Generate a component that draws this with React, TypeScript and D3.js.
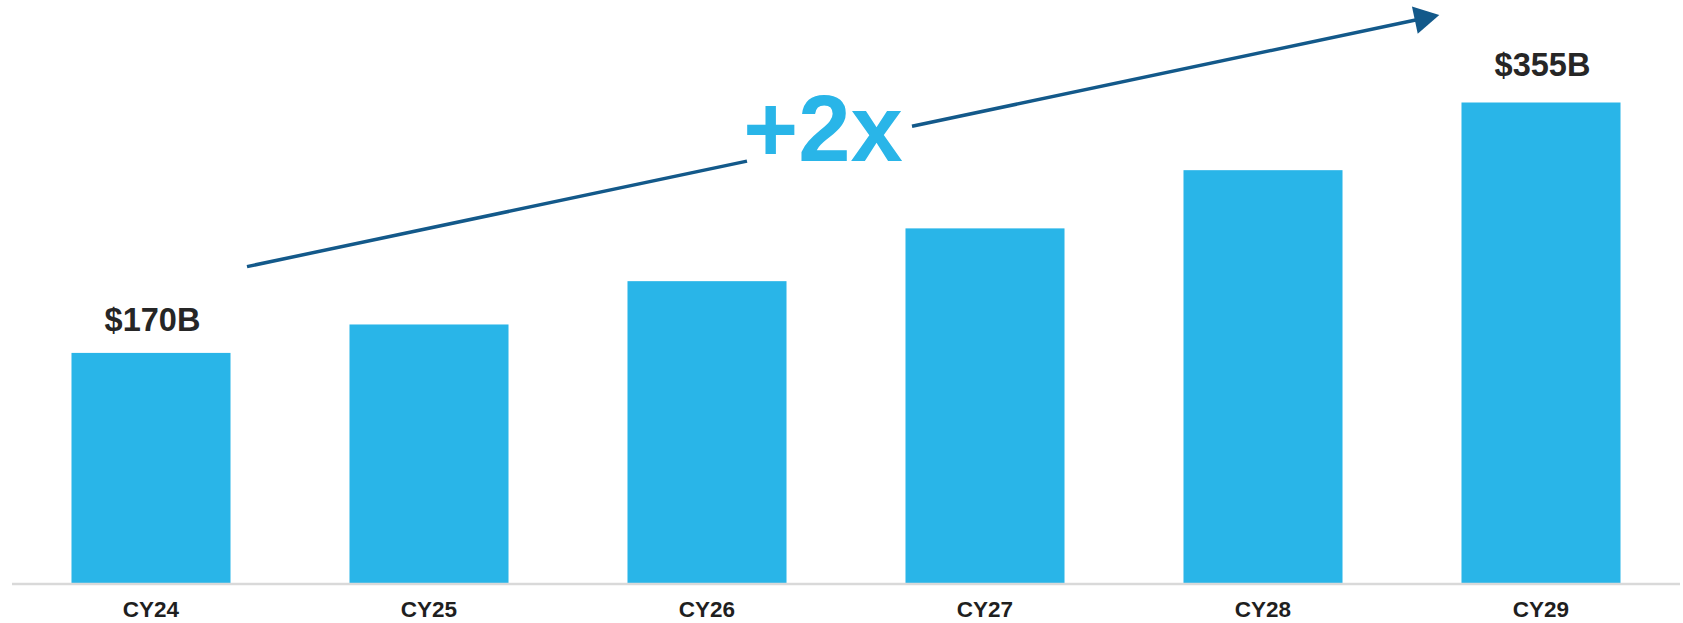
import React from "react";
import * as d3 from "d3";

const categories = ["CY24", "CY25", "CY26", "CY27", "CY28", "CY29"];
const values = [170, 191, 223, 262, 305, 355];
const valueLabels = ["$170B", "", "", "", "", "$355B"];
const growthLabel = "+2x";

const W = 1683;
const H = 623;
const FONT = "'Liberation Sans', Arial, Helvetica, sans-serif";
const BAR = "#29b5e8";
const ARROW = "#13598a";

export default function App() {
  const x = d3
    .scaleBand<string>()
    .domain(categories)
    .range([12, 1680])
    .paddingInner(0.428)
    .paddingOuter(0.214);
  const y = d3.scaleLinear().domain([0, 355]).range([583, 102.5]);

  // arrow annotation
  const p0: [number, number] = [247, 266.6];
  const tip: [number, number] = [1439.3, 15];
  const dx = tip[0] - p0[0];
  const dy = tip[1] - p0[1];
  const len = Math.hypot(dx, dy);
  const ux = dx / len;
  const uy = dy / len;
  const headLen = 25;
  const headHalf = 14;
  const back: [number, number] = [tip[0] - ux * headLen, tip[1] - uy * headLen];
  const at = (xx: number): [number, number] => [xx, p0[1] + (dy / dx) * (xx - p0[0])];
  const gapA = at(747);
  const gapB = at(912);
  const head = [
    tip,
    [back[0] - uy * headHalf, back[1] + ux * headHalf],
    [back[0] + uy * headHalf, back[1] - ux * headHalf],
  ];
  const labelOffsets = [21.5, 0, 0, 0, 0, 26.5];

  return (
    <svg
      width={W}
      height={H}
      style={{ position: "absolute", left: 0, top: 0, background: "#fff" }}
      fontFamily={FONT}
    >
      {categories.map((c, i) => (
        <rect
          key={c}
          x={x(c)}
          y={y(values[i])}
          width={x.bandwidth()}
          height={y(0) - y(values[i])}
          fill={BAR}
        />
      ))}
      <line x1={12} x2={1680} y1={584} y2={584} stroke="#d9d9d9" strokeWidth={2.5} />
      {categories.map((c) => (
        <text
          key={"t" + c}
          x={(x(c) as number) + x.bandwidth() / 2}
          y={617}
          textAnchor="middle"
          fontSize={22.5}
          fontWeight="bold"
          fill="#1f1f1f"
        >
          {c}
        </text>
      ))}
      {categories.map((c, i) =>
        valueLabels[i] ? (
          <text
            key={"v" + c}
            x={(x(c) as number) + x.bandwidth() / 2 + 1.5}
            y={y(values[i]) - labelOffsets[i]}
            textAnchor="middle"
            fontSize={32.5}
            fontWeight="bold"
            fill="#262626"
          >
            {valueLabels[i]}
          </text>
        ) : null
      )}
      <line x1={p0[0]} y1={p0[1]} x2={gapA[0]} y2={gapA[1]} stroke={ARROW} strokeWidth={3.5} />
      <line x1={gapB[0]} y1={gapB[1]} x2={back[0] + ux * 2} y2={back[1] + uy * 2} stroke={ARROW} strokeWidth={3.5} />
      <polygon points={head.map((p) => p.join(",")).join(" ")} fill={ARROW} />
      <text
        x={823}
        y={160.5}
        textAnchor="middle"
        fontSize={94}
        fontWeight="bold"
        fill={BAR}
      >
        {growthLabel}
      </text>
    </svg>
  );
}
